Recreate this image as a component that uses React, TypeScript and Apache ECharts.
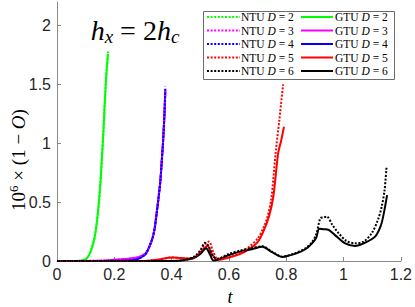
import React, { useEffect, useRef } from "react";
import * as echarts from "echarts";

// ---- data ----
const dValues = [2, 3, 4, 5, 6];
const colors = ["#00ff00", "#ff00ff", "#0000ff", "#ff0000", "#000000"];

const d2T = [0, 0.05, 0.08, 0.1, 0.115, 0.125, 0.132, 0.14, 0.147, 0.152, 0.157, 0.162, 0.166, 0.17, 0.174, 0.178];
const ntu2V = [0, 0, 0.002, 0.015, 0.065, 0.14, 0.21, 0.35, 0.52, 0.68, 0.89, 1.1, 1.31, 1.5, 1.65, 1.78];
const gtu2V = [0, 0, 0.002, 0.015, 0.065, 0.14, 0.21, 0.35, 0.52, 0.68, 0.89, 1.1, 1.31, 1.5, 1.64, 1.76];

const d34T = [0, 0.15, 0.2, 0.25, 0.28, 0.3, 0.311, 0.322, 0.334, 0.341, 0.348, 0.355, 0.361, 0.365, 0.369, 0.372, 0.375, 0.378];
const ntu3V = [0, 0.003, 0.01, 0.02, 0.03, 0.05, 0.07, 0.12, 0.2, 0.28, 0.41, 0.55, 0.69, 0.83, 0.97, 1.1, 1.25, 1.46];
const gtu3V = [0, 0.003, 0.01, 0.02, 0.03, 0.05, 0.07, 0.12, 0.2, 0.28, 0.41, 0.55, 0.69, 0.83, 0.97, 1.1, 1.24, 1.43];
const ntu4V = [0, 0, 0.002, 0.005, 0.015, 0.04, 0.065, 0.12, 0.2, 0.28, 0.41, 0.55, 0.69, 0.83, 0.97, 1.1, 1.26, 1.48];
const gtu4V = [0, 0, 0.002, 0.005, 0.015, 0.04, 0.065, 0.12, 0.2, 0.28, 0.41, 0.55, 0.69, 0.83, 0.97, 1.1, 1.25, 1.45];

const ntu5T = [0, 0.3, 0.35, 0.4, 0.43, 0.47, 0.5, 0.515, 0.53, 0.545, 0.56, 0.6, 0.64, 0.67, 0.7, 0.72, 0.735, 0.748, 0.763, 0.776, 0.789];
const ntu5V = [0, 0, 0.01, 0.03, 0.025, 0.02, 0.08, 0.14, 0.165, 0.08, 0.02, 0.03, 0.07, 0.12, 0.19, 0.28, 0.38, 0.53, 0.92, 1.2, 1.5];
const gtu5T = [0, 0.3, 0.35, 0.4, 0.43, 0.47, 0.5, 0.515, 0.525, 0.54, 0.56, 0.6, 0.64, 0.67, 0.7, 0.72, 0.74, 0.755, 0.772, 0.782, 0.792];
const gtu5V = [0, 0, 0.01, 0.03, 0.025, 0.02, 0.07, 0.11, 0.13, 0.06, 0.01, 0.03, 0.06, 0.1, 0.16, 0.25, 0.38, 0.55, 0.92, 1.02, 1.14];

const ntu6T = [0, 0.4, 0.45, 0.48, 0.5, 0.517, 0.53, 0.545, 0.56, 0.6, 0.647, 0.68, 0.716, 0.75, 0.786, 0.8, 0.83, 0.867, 0.89, 0.905, 0.919, 0.93, 0.942, 0.96, 0.983, 1.01, 1.04, 1.07, 1.098, 1.12, 1.133, 1.143, 1.15];
const ntu6V = [0, 0, 0.01, 0.04, 0.09, 0.156, 0.12, 0.04, 0.02, 0.06, 0.094, 0.11, 0.125, 0.08, 0.037, 0.042, 0.065, 0.108, 0.16, 0.23, 0.363, 0.37, 0.377, 0.31, 0.235, 0.17, 0.15, 0.165, 0.235, 0.35, 0.46, 0.6, 0.8];
const gtu6T = [0, 0.4, 0.45, 0.48, 0.5, 0.52, 0.535, 0.545, 0.56, 0.6, 0.647, 0.68, 0.716, 0.75, 0.786, 0.8, 0.83, 0.867, 0.89, 0.905, 0.915, 0.93, 0.948, 0.97, 1.006, 1.04, 1.07, 1.11, 1.13, 1.14, 1.152];
const gtu6V = [0, 0, 0.01, 0.03, 0.06, 0.108, 0.05, 0.005, 0.01, 0.05, 0.085, 0.1, 0.12, 0.075, 0.035, 0.04, 0.06, 0.1, 0.15, 0.2, 0.275, 0.27, 0.264, 0.22, 0.15, 0.128, 0.15, 0.207, 0.3, 0.4, 0.56];

const ntuSets = [
  [d2T, ntu2V],
  [d34T, ntu3V],
  [d34T, ntu4V],
  [ntu5T, ntu5V],
  [ntu6T, ntu6V],
];
const gtuSets = [
  [d2T, gtu2V],
  [d34T, gtu3V],
  [d34T, gtu4V],
  [gtu5T, gtu5V],
  [gtu6T, gtu6V],
];

const xTicks = [0, 0.2, 0.4, 0.6, 0.8, 1, 1.2];
const yTicks = [0, 0.5, 1, 1.5, 2];

const pairs = (t: number[], v: number[]) => t.map((x, i) => [x, v[i]]);

export default function App() {
  const ref = useRef<HTMLDivElement>(null);
  useEffect(() => {
    if (!ref.current) return;
    const chart = echarts.init(ref.current, null, { renderer: "svg" });
    const series: any[] = [];
    dValues.forEach((d, i) => {
      series.push({
        name: `NTU D = ${d}`,
        type: "line",
        data: pairs(ntuSets[i][0], ntuSets[i][1]),
        showSymbol: false,
        symbol: "none",
        smooth: 0.3,
        lineStyle: { color: colors[i], width: 2, type: [2, 1.6] },
        z: 3,
      });
      series.push({
        name: `GTU D = ${d}`,
        type: "line",
        data: pairs(gtuSets[i][0], gtuSets[i][1]),
        showSymbol: false,
        symbol: "none",
        smooth: 0.3,
        lineStyle: { color: colors[i], width: 2 },
        z: 2,
      });
    });

    const legendX = 203;
    const legendY = 11;
    const rowH = 13.5;
    const legendEls: any[] = [
      {
        type: "rect",
        shape: { x: legendX + 0.5, y: legendY + 0.5, width: 191, height: 68 },
        style: { fill: "#fff", stroke: "#6b6b6b", lineWidth: 1 },
        z: 100,
      },
    ];
    const rich = {
      r: { fontFamily: "Liberation Serif", fontSize: 11.5, fill: "#000" },
      i: { fontFamily: "Liberation Serif", fontStyle: "italic", fontSize: 11.5, fill: "#000" },
    };
    dValues.forEach((d, i) => {
      const y = legendY + 6 + i * rowH;
      legendEls.push({
        type: "line",
        shape: { x1: legendX + 4, y1: y, x2: legendX + 37, y2: y },
        style: { stroke: colors[i], lineWidth: 2, lineDash: [2, 1.6] },
        z: 101,
      });
      legendEls.push({
        type: "text",
        x: legendX + 38,
        y,
        style: {
          text: `{r|NTU }{i|D}{r| = ${d}}`,
          rich,
          fontFamily: "Liberation Serif",
          fontSize: 11.5,
          fill: "#000",
          verticalAlign: "middle",
          align: "left",
        },
        z: 101,
      });
      legendEls.push({
        type: "line",
        shape: { x1: legendX + 98, y1: y, x2: legendX + 130, y2: y },
        style: { stroke: colors[i], lineWidth: 2 },
        z: 101,
      });
      legendEls.push({
        type: "text",
        x: legendX + 132,
        y,
        style: {
          text: `{r|GTU }{i|D}{r| = ${d}}`,
          rich,
          fontFamily: "Liberation Serif",
          fontSize: 11.5,
          fill: "#000",
          verticalAlign: "middle",
          align: "left",
        },
        z: 101,
      });
    });

    chart.setOption({
      animation: false,
      grid: { left: 57, right: 12, top: 2, bottom: 46, containLabel: false },
      xAxis: {
        type: "value",
        min: 0,
        max: 1.2,
        interval: 0.2,
        axisLine: { lineStyle: { color: "#8a8a8a", width: 1 } },
        axisTick: { inside: true, length: 4, lineStyle: { color: "#8a8a8a" } },
        splitLine: { show: false },
        axisLabel: {
          color: "#262626",
          fontFamily: "Liberation Sans",
          fontSize: 16,
          margin: 5,
          formatter: (v: number) => (xTicks.some((t) => Math.abs(t - v) < 1e-9) ? String(+v.toFixed(1)) : ""),
        },
      },
      yAxis: {
        type: "value",
        min: 0,
        max: 2.2,
        interval: 0.5,
        axisLine: { show: true, lineStyle: { color: "#8a8a8a", width: 1 } },
        axisTick: { show: true, inside: true, length: 4, lineStyle: { color: "#8a8a8a" } },
        splitLine: { show: false },
        axisLabel: {
          color: "#262626",
          fontFamily: "Liberation Sans",
          fontSize: 16,
          margin: 6,
          showMaxLabel: false,
          formatter: (v: number) => (yTicks.some((t) => Math.abs(t - v) < 1e-9) ? String(+v.toFixed(1)) : ""),
        },
      },
      series,
      graphic: [
        {
          type: "text",
          x: 135,
          y: 30,
          style: {
            text: "{i|h}{s|x}{r| = 2}{i|h}{s|c}",
            rich: {
              r: { fontFamily: "Liberation Serif", fontSize: 28, fill: "#000" },
              i: { fontFamily: "Liberation Serif", fontStyle: "italic", fontSize: 28, fill: "#000" },
              s: { fontFamily: "Liberation Serif", fontStyle: "italic", fontSize: 19, fill: "#000", padding: [13, 0, 0, 0] },
            },
            fontFamily: "Liberation Serif",
            fontSize: 28,
            fill: "#000",
            align: "center",
            verticalAlign: "middle",
          },
          z: 50,
        },
        {
          type: "text",
          x: 230,
          y: 297,
          style: {
            text: "t",
            fontFamily: "Liberation Serif",
            fontStyle: "italic",
            fontSize: 18,
            fill: "#000",
            align: "center",
            verticalAlign: "middle",
          },
        },
        {
          type: "text",
          x: 18,
          y: 160,
          rotation: Math.PI / 2,
          style: {
            text: "{r|10}{sup|6}{r| × (1 − }{i|O}{r|)}",
            rich: {
              r: { fontFamily: "Liberation Serif", fontSize: 19, fill: "#000" },
              sup: { fontFamily: "Liberation Serif", fontSize: 13, fill: "#000", padding: [0, 0, 10, 0] },
              i: { fontFamily: "Liberation Serif", fontStyle: "italic", fontSize: 19, fill: "#000" },
            },
            fontFamily: "Liberation Serif",
            fontSize: 19,
            fill: "#000",
            align: "center",
            verticalAlign: "middle",
          },
        },
        ...legendEls,
      ],
    });
    return () => chart.dispose();
  }, []);
  return <div ref={ref} style={{ width: 415, height: 307, position: "absolute", left: 0, top: 0 }} />;
}
